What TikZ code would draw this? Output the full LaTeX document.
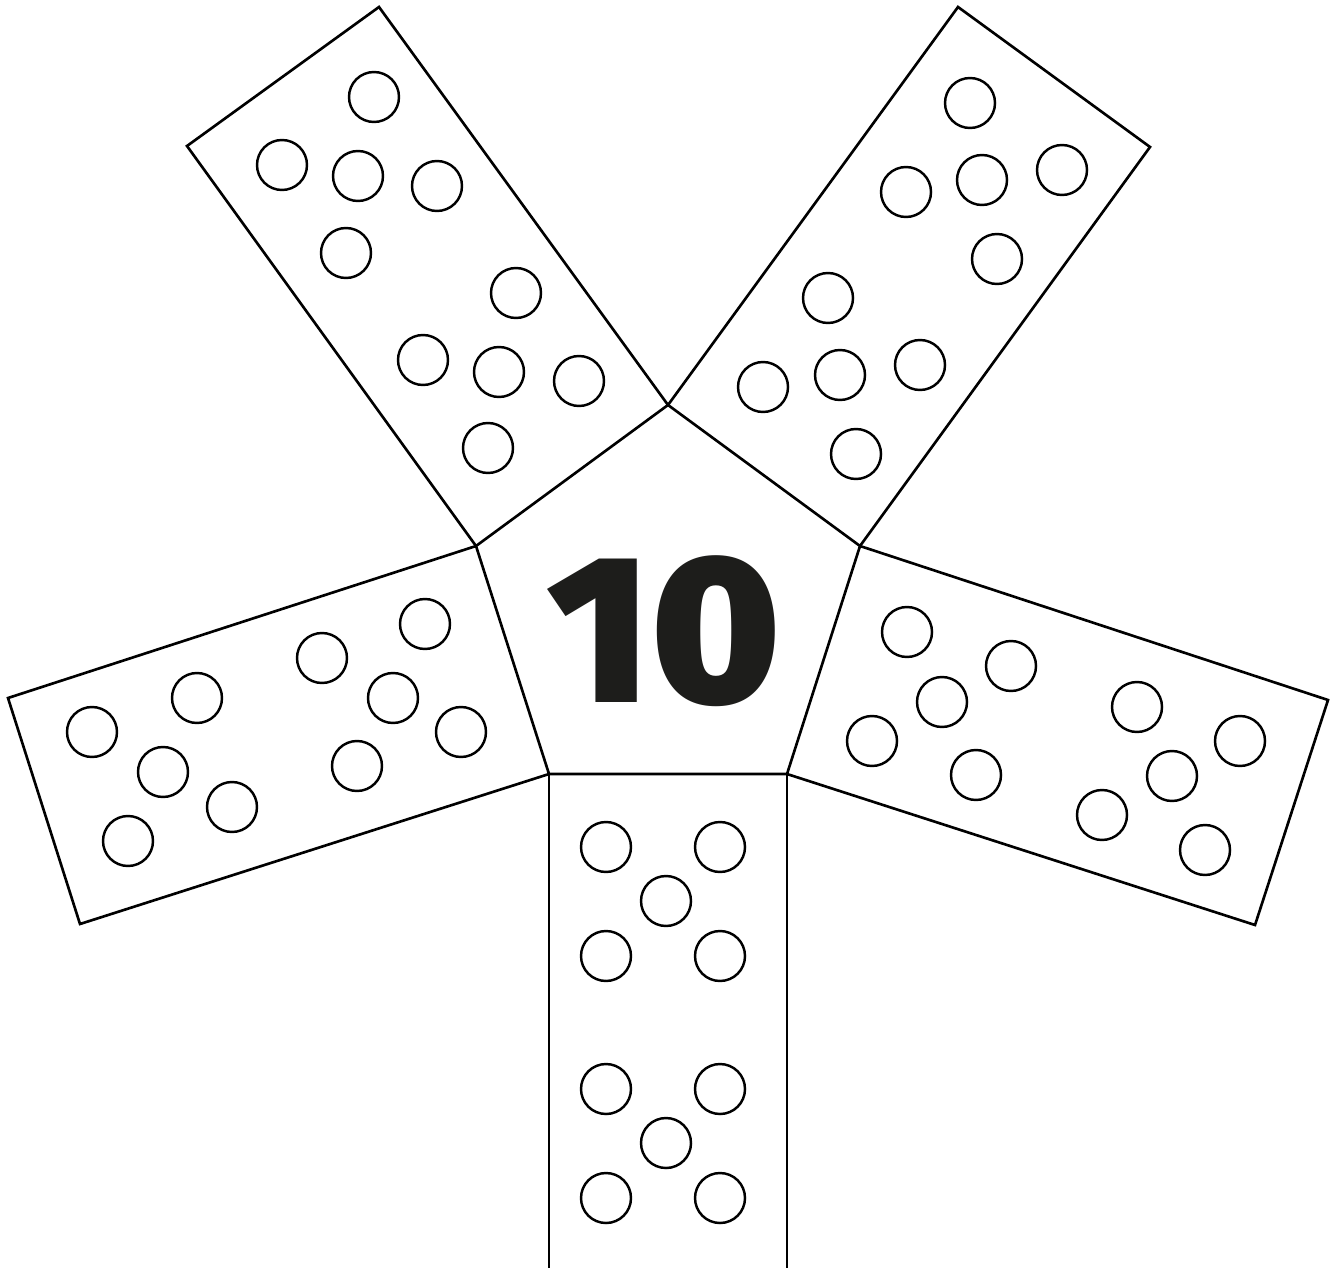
\documentclass[tikz,border=0pt]{standalone}
\usepackage{fontspec}
\newfontfamily\numfont{Fira Sans Black}
\definecolor{ink}{HTML}{1D1D1B}
\begin{document}
\begin{tikzpicture}[x=0.01cm, y=-0.01cm, line join=miter,
    arm/.style={draw=black, line width=0.75pt},
    pip/.style={draw=black, line width=0.7pt}]
    \useasboundingbox (0,0) rectangle (1337,1267);

    % Pentagone central
    \coordinate (pt) at (668,405);
    \coordinate (pr) at (860,546);
    \coordinate (pbr) at (787,774);
    \coordinate (pbl) at (549,774);
    \coordinate (pl) at (476,546);
    \draw[arm] (pt) -- (pr) -- (pbr) -- (pbl) -- (pl) -- cycle;

    % Bras
    \draw[arm] (pl) -- (187,146) -- (379,7) -- (pt);
    \draw[arm] (pt) -- (958,7) -- (1150,147) -- (pr);
    \draw[arm] (pr) -- (1328,700) -- (1255,925) -- (pbr);
    \draw[arm] (pbl) -- (80,924) -- (8,698) -- (pl);
    \draw[arm] (pbl) -- (549,1280);
    \draw[arm] (pbr) -- (787,1280);

    % Points
    \foreach \x/\y in {374/97, 282/165, 358/176, 437/186, 346/253,
                       516/293, 423/360, 499/372, 579/381, 488/448} % haut gauche
        \draw[pip] (\x,\y) circle (25);
    \foreach \x/\y in {970/103, 906/192, 982/180, 1062/170, 997/259,
                       828/298, 763/387, 840/375, 920/365, 856/454} % haut droit
        \draw[pip] (\x,\y) circle (25);
    \foreach \x/\y in {425/624, 322/658, 393/698, 461/732, 357/766,
                       197/698, 92/732, 163/772, 232/807, 128/841} % gauche
        \draw[pip] (\x,\y) circle (25);
    \foreach \x/\y in {907/632, 1011/666, 942/702, 872/741, 976/775,
                       1137/707, 1240/741, 1172/776, 1102/815, 1205/850} % droite
        \draw[pip] (\x,\y) circle (25);
    \foreach \x/\y in {606/847, 720/847, 666/901, 606/956, 720/956,
                       606/1089, 720/1089, 666/1143, 606/1198, 720/1198} % bas
        \draw[pip] (\x,\y) circle (25);

    % Nombre
    \node[text=ink, font=\numfont\fontsize{60}{60}\selectfont, inner sep=0pt,
          xscale=1.02] (num) at (664,631) {10};
\end{tikzpicture}
\end{document}
